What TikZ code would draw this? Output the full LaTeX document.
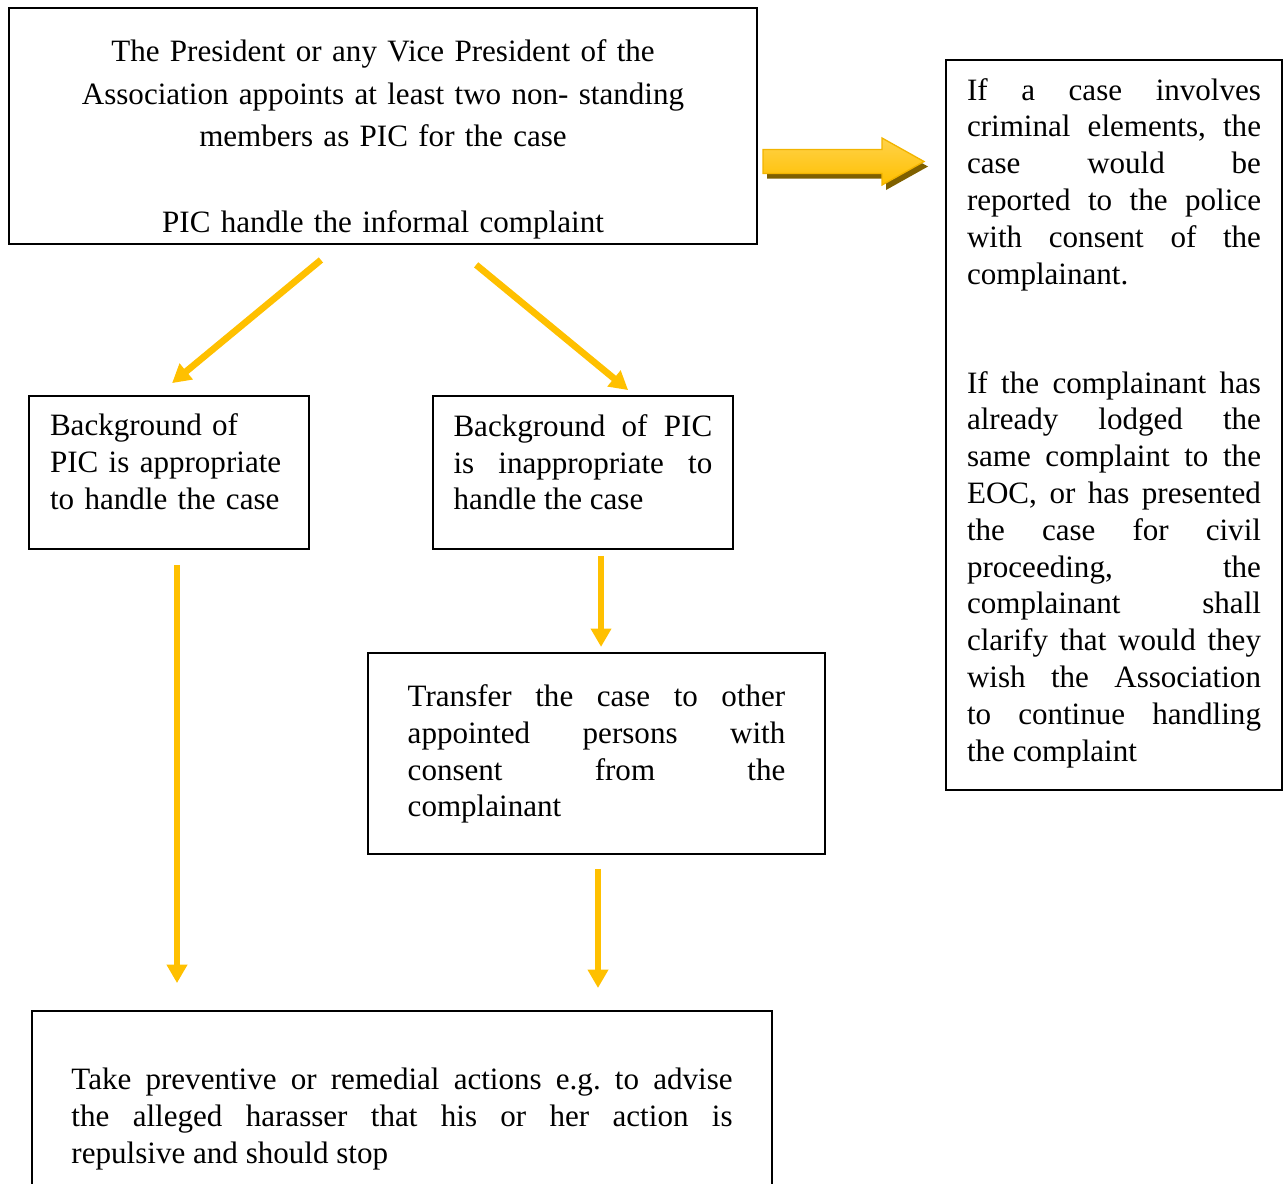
\documentclass[tikz,border=0pt]{standalone}
\usepackage{fontspec}
\setmainfont{Liberation Serif}
\usetikzlibrary{arrows.meta}
\definecolor{arrowgold}{HTML}{FFC000}
\definecolor{arrowlight}{HTML}{FFD24A}
\definecolor{arrowedge}{HTML}{F2B400}
\definecolor{arrowshade}{HTML}{7F6000}
\newcommand\topgap[1]{\rule{0pt}{#1}}
\newcommand\botgap[1]{\rule[-#1]{0pt}{#1}}
\begin{document}
\begin{tikzpicture}[x=.375pt,y=-.375pt,
  box/.style={draw,line width=.75pt,anchor=north west,inner ysep=0pt,
    font={\fontsize{11.65pt}{13.8pt}\selectfont\frenchspacing\tolerance 10000 \hyphenpenalty 10000 }},
  flow/.style={draw=arrowgold,line width=2.5pt,-{Triangle[width=7.4pt,length=6.9pt]}}]
  \path[use as bounding box,clip] (0,0) rectangle (1285,1183);
  \node[box,inner xsep=7.5pt,text width=265.5pt,align=center,font=\fontsize{11.65pt}{16.1pt}\selectfont] (pic) at (8,7)
    {\topgap{19.9pt}The President or any Vice President of the\\Association appoints at least two non- standing\\members as PIC for the case\\[16.1pt]PIC handle the informal complaint\botgap{4.2pt}};
  \node[box,inner xsep=7.875pt,text width=110.25pt,align=justify] (info) at (945,59)
    {\topgap{15pt}If a case involves\linebreak criminal elements, the\linebreak case would be\linebreak reported to the police\linebreak with consent of the\linebreak complainant.\par\vspace{27.1pt}%
     If the complainant has\linebreak already lodged the\linebreak same complaint to the\linebreak EOC, or has presented\linebreak the case for civil\linebreak proceeding, the\linebreak complainant shall\linebreak clarify that would they\linebreak wish the Association\linebreak to continue handling\linebreak the complaint\botgap{10.9pt}};
  \node[box,inner xsep=7.875pt,text width=89.25pt,align=left] (bgok) at (28,395)
    {\topgap{14.8pt}Background of\\PIC is appropriate\\to handle the case\botgap{15pt}};
  \node[box,inner xsep=7.875pt,text width=97.05pt,align=justify] (bgbad) at (431.5,395)
    {\topgap{15.1pt}Background of PIC\linebreak is inappropriate to\linebreak handle the case\botgap{14.8pt}};
  \node[box,inner xsep=15pt,text width=141.6pt,align=justify] (xfer) at (366.7,651.7)
    {\topgap{20.15pt}Transfer the case to other\linebreak appointed persons with\linebreak consent from the\linebreak complainant\botgap{13.75pt}};
  \node[box,inner xsep=14.81pt,text width=247.9pt,align=justify] (act) at (31,1010)
    {\topgap{29.5pt}Take preventive or remedial actions e.g. to advise\linebreak the alleged harasser that his or her action is\linebreak repulsive and should stop\botgap{15pt}};
  % connectors
  \draw[flow,shorten <=8.8pt,shorten >=7pt] ([xshift=-16.5pt]pic.south) -- ([xshift=-4.24pt]bgok.north);
  \draw[flow,shorten <=11.7pt,shorten >=2.9pt] ([xshift=25.9pt]pic.south) -- ([xshift=19.2pt]bgbad.north);
  \draw[flow,shorten <=5.6pt,shorten >=10.1pt] ([xshift=3pt]bgok.south) -- ([xshift=3pt]bgok.south |- act.north);
  \draw[flow,shorten <=2.1pt,shorten >=1.8pt] ([xshift=6.8pt]bgbad.south) -- ([xshift=6.8pt]bgbad.south |- xfer.north);
  \draw[flow,shorten <=5.4pt,shorten >=8.25pt] ([xshift=.56pt]xfer.south) -- ([xshift=.56pt]xfer.south |- act.north);
  % block arrow
  \fill[arrowshade,shift={(767,166.5)}]
    (0,-12) -- (119,-12) -- (119,-23.5) -- (161,0) -- (119,23.5) -- (119,12) -- (0,12) -- cycle;%shadow
  \shade[shift={(763,161.5)},top color=arrowlight,bottom color=arrowgold,draw=arrowedge,line width=.5pt]
    (0,-12) -- (119,-12) -- (119,-23.5) -- (161,0) -- (119,23.5) -- (119,12) -- (0,12) -- cycle;%body
\end{tikzpicture}
\end{document}
